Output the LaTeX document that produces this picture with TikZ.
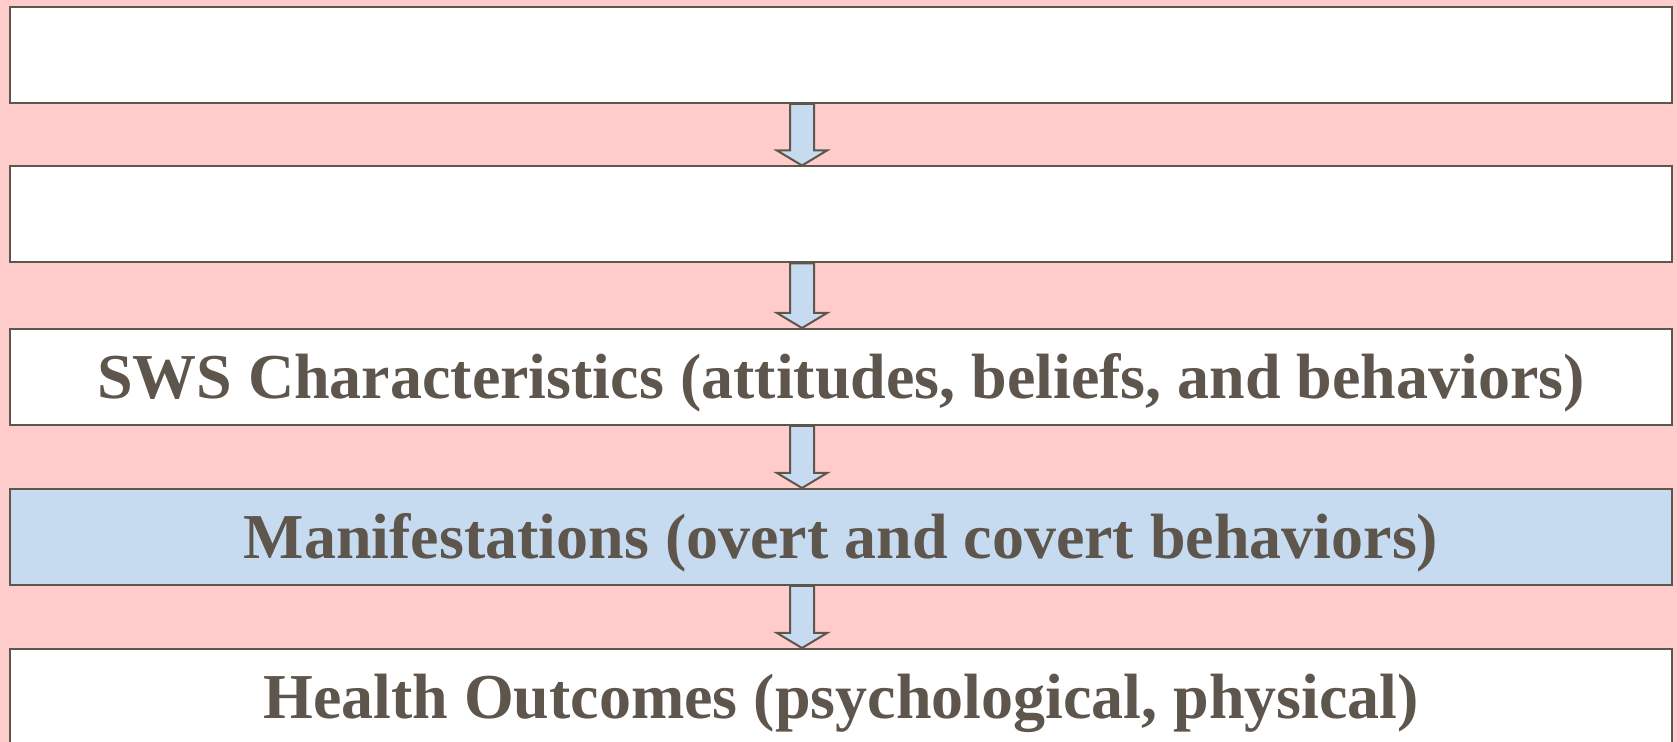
\documentclass[tikz,border=0pt]{standalone}
\usepackage{fontspec}
\setmainfont{Liberation Serif}
\usetikzlibrary{calc}
\definecolor{swspink}{RGB}{255,204,204}
\definecolor{swsblue}{RGB}{198,219,239}
\definecolor{swsline}{RGB}{94,85,77}

\begin{document}
\begin{tikzpicture}[
      x=0.5pt, y=-0.5pt,
      stage/.style={draw=swsline, fill=white, line width=1pt, minimum width=831pt, minimum height=48pt, inner sep=0pt, font=\fontsize{32}{37}\selectfont\bfseries, text=swsline, text height=21.2pt, text depth=0pt},
      flow/.style={draw=swsline, fill=swsblue, line width=1pt, line join=miter}
    ]
      \useasboundingbox (0,0) rectangle (1677,742);
      \fill[swspink] (0,0) rectangle (1677,742);

      \begin{scope}
      \clip (0,0) rectangle (1677,742);
      \node[stage] (context) at (841, 55) {};
      \node[stage] (environment) at (841, 214.5) {};
      \node[stage] (traits) at (841, 377) {SWS Characteristics (attitudes, beliefs, and behaviors)};
      \node[stage, fill=swsblue] (signs) at (841, 537) {Manifestations (overt and covert behaviors)};
      \node[stage] (outcomes) at (841, 697) {Health Outcomes (psychological, physical)};

      % block arrows between the stages
      \foreach \from/\to in {context/environment, environment/traits, traits/signs, signs/outcomes}
        \draw[flow] ([xshift=-25.5pt]\from.south) -- ([xshift=-13.5pt]\from.south)
          -- ([xshift=-13.5pt, yshift=7.5pt]\to.north) -- ([xshift=-7pt, yshift=7.5pt]\to.north)
          -- ([xshift=-19.5pt]\to.north) -- ([xshift=-32pt, yshift=7.5pt]\to.north)
          -- ([xshift=-25.5pt, yshift=7.5pt]\to.north) -- cycle;
      \end{scope}
    \end{tikzpicture}
\end{document}
